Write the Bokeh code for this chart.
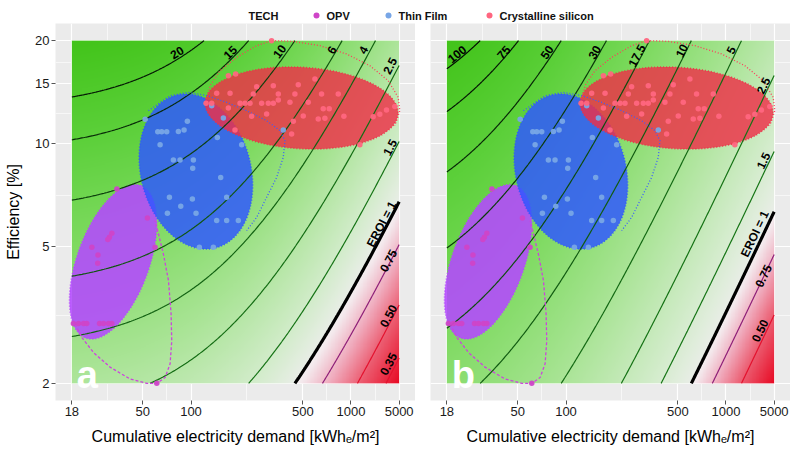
import numpy as np
from bokeh.plotting import figure
from bokeh.layouts import column, row
from bokeh.models import Range1d, FixedTicker
from bokeh.core.properties import value
from bokeh.embed import file_html
from bokeh.resources import INLINE

FONT = "Liberation Sans"

# ---------------- axes ----------------
x_ticks = [18, 50, 100, 500, 1000, 2000]
x_tick_labels = ["18", "50", "100", "500", "1000", "5000"]
y_ticks = [2, 5, 10, 15, 20]
y_tick_labels = ["2", "5", "10", "15", "20"]
x_data_min, x_data_max = 18, 2000
y_data_min, y_data_max = 2, 20

# ---------------- legend ----------------
legend_title = "TECH"
techs = ["OPV", "Thin Film", "Crystalline silicon"]
tech_point_colors = ["#cf45c8", "#78a6e6", "#ff6680"]

# ---------------- points (CED kWh/m2, efficiency %) ----------------
opv_ced = [34.4, 53.4, 32.0, 30.9, 30.2, 24.0, 59.6, 26.2, 26.1, 18.4, 19.8, 21.3, 22.3, 26.8, 28.4, 30.5, 32.0, 61.1]
opv_eff = [7.38, 6.07, 5.48, 5.34, 5.26, 4.99, 4.99, 4.74, 4.48, 2.99, 2.99, 2.99, 2.99, 2.99, 2.99, 2.99, 2.99, 2.0]

tf_ced = [134.7, 159.3, 51.7, 377.4, 62.0, 65.6, 70.5, 83.4, 90.5, 94.9, 64.1, 146.1, 207.4, 77.6, 85.4,
          103.5, 102.5, 153.3, 73.3, 102.0, 167.1, 86.3, 71.2, 107.5, 144.7, 167.1, 197.6, 112.8, 138.0]
tf_eff = [12.92, 11.89, 11.8, 10.97, 10.85, 10.85, 10.85, 10.87, 10.97, 11.63, 9.94, 10.44, 9.94, 8.97, 8.97,
          8.97, 8.48, 7.98, 6.98, 6.90, 6.98, 6.57, 6.27, 6.27, 5.97, 5.97, 5.97, 4.99, 4.99]

cs_ced = [319, 171.2, 190.2, 257.2, 326.9, 468.2, 595, 144.7, 175.4, 245.2, 351.3, 446.2, 655, 832.5,
          124.2, 134.7, 202.5, 217.6, 233.7, 276.4, 304.2, 326.9, 351.3, 415.4, 540.6, 670.8, 731.1,
          171.2, 239.4, 297, 435.8, 503, 624.3, 687, 902.9, 1376, 1515, 1667, 1879, 188.4, 425.5, 1136]
cs_eff = [20.0, 15.81, 15.99, 14.68, 14.78, 14.86, 15.46, 14.04, 14.04, 13.98, 13.98, 13.98, 13.98, 13.98,
          13.13, 13.13, 13.13, 13.13, 13.13, 13.13, 13.13, 13.13, 13.42, 13.21, 13.21, 12.66, 12.66,
          12.71, 12.03, 12.22, 11.63, 12.06, 11.82, 11.88, 12.03, 12.0, 12.2, 12.54, 12.84, 10.97, 10.68, 9.94]

# ---------------- filled ellipses: centre + two semi-axis vectors (decades of CED, decades of eff) ----------------
opv_ellipse = dict(ced=32.6, eff=4.525, ax1=(0.1713, 0.2224), ax2=(0.2123, -0.0357))
tf_ellipse = dict(ced=107.3, eff=8.30, ax1=(0.124, -0.2226), ax2=(-0.3326, -0.0405))
cs_ellipse = dict(ced=491.0, eff=12.72, ax1=(0.6025, -0.0172), ax2=(-0.0154, -0.1185))

# ---------------- dotted envelopes ----------------
opv_env_ced = [18.9, 20.8, 24.6, 31.2, 41.6, 52.9, 61.1, 68.9, 74.0, 75.8, 75.1, 72.3, 67.2, 62.6, 59.6]
opv_env_eff = [2.98, 2.72, 2.46, 2.23, 2.06, 2.0, 2.0, 2.08, 2.28, 2.66, 3.19, 3.99, 4.77, 5.46, 5.97]
tf_env_ced = [54.2, 74.0, 96.3, 125.4, 167.1, 222.8, 297, 359.7, 386.6, 377.4, 343, 297, 257.2, 222.8]
tf_env_eff = [12.49, 13.82, 14.13, 13.82, 13.21, 12.49, 11.68, 10.93, 10.21, 9.13, 7.98, 6.98, 6.10, 5.58]
cs_env_ced = [124.2, 131.5, 151.9, 193, 257.2, 319, 435.8, 639.4, 938, 1312, 1708, 1972, 2020, 1879]
cs_env_eff = [13.21, 14.78, 16.35, 17.88, 19.33, 20.0, 19.9, 19.33, 18.29, 16.9, 15.29, 13.67, 12.49, 11.3]

# ---------------- EROI model per panel: EROI = A * eff / (CED + B) ----------------
panel_a = dict(
    letter="a", A=325.6, B=205.0,
    levels=[20, 15, 10, 6, 4, 2.5, 1.5, 1, 0.75, 0.5, 0.35],
    labels=["20", "15", "10", "6", "4", "2.5", "1.5", "EROI = 1", "0.75", "0.50", "0.35"],
    label_ced=[81.5, 175.4, 356.4, 756, 1192, 1749, 1749, 1551, 1708, 1708, 1708],
    label_eff=[18.49, 18.49, 18.62, 18.79, 18.79, 16.9, 9.77, 5.83, 4.56, 3.15, 2.28],
)
panel_b = dict(
    letter="b", A=321.3, B=35.2,
    levels=[100, 75, 50, 30, 17.5, 10, 5, 2.5, 1.5, 1, 0.75, 0.5],
    labels=["100", "75", "50", "30", "17.5", "10", "5", "2.5", "1.5", "EROI = 1", "0.75", "0.50"],
    label_ced=[20.8, 40.7, 75.8, 150.4, 276.4, 527.8, 1073, 1708, 1708, 1515, 1708, 1628],
    label_eff=[18.29, 18.49, 18.49, 18.49, 18.09, 18.7, 18.79, 14.78, 8.93, 5.46, 4.12, 2.85],
)

# ---------------- layout constants ----------------
FRAME_W, FRAME_H = 360, 377
LEG_H = 23
FIG_H = 428
EXP = 0.05
lx0, lx1 = np.log10(x_data_min), np.log10(x_data_max)
ly0, ly1 = np.log10(y_data_min), np.log10(y_data_max)
x_lo, x_hi = 10 ** (lx0 - EXP * (lx1 - lx0)), 10 ** (lx1 + EXP * (lx1 - lx0))
y_lo, y_hi = 10 ** (ly0 - EXP * (ly1 - ly0)), 10 ** (ly1 + EXP * (ly1 - ly0))
x_minor = [float(np.sqrt(a * b)) for a, b in zip(x_ticks[:-1], x_ticks[1:])]
y_minor = [float(np.sqrt(a * b)) for a, b in zip(y_ticks[:-1], y_ticks[1:])]
px_per_dec_x = FRAME_W / np.log10(x_hi / x_lo)
px_per_dec_y = FRAME_H / np.log10(y_hi / y_lo)
K = px_per_dec_y / px_per_dec_x


def ellipse_xy(e, n=240):
    t = np.linspace(0, 2 * np.pi, n)
    lx = np.log10(e["ced"]) + np.cos(t) * e["ax1"][0] + np.sin(t) * e["ax2"][0]
    ly = np.log10(e["eff"]) + np.cos(t) * e["ax1"][1] + np.sin(t) * e["ax2"][1]
    return 10 ** lx, 10 ** ly


def background(A, B, nx=420, ny=320):
    lx = np.linspace(lx0, lx1, nx)
    ly = np.linspace(ly0, ly1, ny)
    C, F = np.meshgrid(10 ** lx, 10 ** ly)
    E = A * F / (C + B)
    emax, emin = E.max(), E.min()
    t = np.clip(np.log(np.maximum(E, 1.0)) / np.log(emax), 0, 1)
    s = np.clip(np.log(np.minimum(E, 1.0)) / np.log(emin), 0, 1)
    gt = [0, 0.12, 0.35, 0.6, 0.8, 1.0]
    gr, gg, gb = [234, 210, 168, 125, 92, 66], [238, 236, 228, 218, 208, 196], [232, 202, 148, 95, 58, 26]
    rt = [0, 0.06, 0.3, 0.6, 1.0]
    rr, rg, rb = [244, 244, 240, 236, 232], [242, 232, 172, 92, 10], [242, 236, 190, 112, 36]
    img = np.empty((ny, nx), dtype=np.uint32)
    v = img.view(dtype=np.uint8).reshape((ny, nx, 4))
    green = E >= 1
    for i, (g, r) in enumerate([(gr, rr), (gg, rg), (gb, rb)]):
        v[..., i] = np.where(green, np.interp(t, gt, g), np.interp(s, rt, r)).astype(np.uint8)
    v[..., 3] = 255
    return img, emax


def mix(c1, c2, f):
    return "#%02x%02x%02x" % tuple(int(round(a + (b - a) * f)) for a, b in zip(c1, c2))


def make_panel(P, first):
    mbl = 55 if first else 15
    width = FRAME_W + mbl
    p = figure(width=width, height=FIG_H, x_axis_type="log", y_axis_type="log",
               x_range=Range1d(x_lo, x_hi), y_range=Range1d(y_lo, y_hi),
               toolbar_location=None, output_backend="svg",
               min_border_left=mbl, min_border_right=0, min_border_top=0,
               min_border_bottom=FIG_H - FRAME_H)
    p.background_fill_color = "#ebebeb"
    p.border_fill_color = "white"
    p.outline_line_color = None

    xt = FixedTicker(ticks=x_ticks, minor_ticks=x_minor)
    yt = FixedTicker(ticks=y_ticks, minor_ticks=y_minor)
    p.xaxis.ticker = xt
    p.yaxis.ticker = yt
    p.xgrid.ticker = xt
    p.ygrid.ticker = yt
    for g in (p.xgrid, p.ygrid):
        g.grid_line_color = "white"
        g.grid_line_width = 1.2
        g.minor_grid_line_color = "white"
        g.minor_grid_line_width = 0.6
    p.xaxis.major_label_overrides = {t: l for t, l in zip(x_ticks, x_tick_labels)}
    p.yaxis.major_label_overrides = {t: l for t, l in zip(y_ticks, y_tick_labels)}
    for ax in (p.xaxis, p.yaxis):
        ax.axis_line_color = None
        ax.major_tick_line_color = "#555555"
        ax.major_tick_out = 4
        ax.major_tick_in = 0
        ax.minor_tick_line_color = None
        ax.major_label_text_font = FONT
        ax.major_label_text_font_size = "13px"
        ax.major_label_text_color = "#1a1a1a"
        ax.axis_label_text_font = FONT
        ax.axis_label_text_font_size = "16px"
        ax.axis_label_text_font_style = "normal"
        ax.axis_label_text_color = "black"
    p.xaxis.major_label_standoff = 2
    p.xaxis.axis_label_standoff = 9
    p.xaxis.axis_label = "Cumulative electricity demand [kWh\u2091/m\u00b2]"
    if first:
        p.yaxis.axis_label = "Efficiency [%]"
        p.yaxis.major_label_standoff = 2
        p.yaxis.axis_label_standoff = 10
    else:
        p.yaxis.visible = False

    A, B = P["A"], P["B"]
    img, emax = background(A, B)
    p.image_rgba(image=[img], x=x_data_min, y=y_data_min,
                 dw=x_data_max - x_data_min, dh=y_data_max - y_data_min)

    # filled ellipses
    for e, fc, al in ((opv_ellipse, "#b448ff", 0.88), (tf_ellipse, "#2f57ff", 0.84), (cs_ellipse, "#ee3048", 0.82)):
        ex, ey = ellipse_xy(e)
        p.patch(ex, ey, fill_color=fc, fill_alpha=al, line_color=fc, line_alpha=0.9,
                line_width=1.6, line_dash="1 2")

    # contour lines
    for L in P["levels"]:
        lo = max(x_data_min, A * y_data_min / L - B)
        hi = min(x_data_max, A * y_data_max / L - B)
        if hi <= lo:
            continue
        ced = np.logspace(np.log10(lo), np.log10(hi), 160)
        eff = L * (ced + B) / A
        if L == 1:
            col, w = "black", 3.2
        elif L > 1:
            f = min(1.0, np.log(L) / np.log(emax))
            col, w = mix((22, 118, 22), (0, 0, 0), f ** 2), 1.2
        elif L >= 0.7:
            col, w = "#8e1f78", 1.2
        else:
            col, w = "#e3122e", 1.2
        p.line(ced, eff, line_color=col, line_width=w)

    # dotted envelopes
    p.line(opv_env_ced, opv_env_eff, line_color="#cc44dd", line_width=1.3, line_dash="3 2")
    p.line(tf_env_ced, tf_env_eff, line_color="#3a5cff", line_width=1.3, line_dash="1 2")
    p.line(cs_env_ced, cs_env_eff, line_color="#ff3a5a", line_width=1.3, line_dash="1 2")

    # points
    for xs, ys, c in ((opv_ced, opv_eff, tech_point_colors[0]), (tf_ced, tf_eff, tech_point_colors[1]),
                      (cs_ced, cs_eff, tech_point_colors[2])):
        p.scatter(xs, ys, size=5.5, fill_color=c, line_color=None, fill_alpha=0.95)

    # contour labels
    lab_ced = np.array(P["label_ced"], dtype=float)
    angles = np.arctan(K * lab_ced / (lab_ced + B))
    p.text(x=P["label_ced"], y=P["label_eff"], text=P["labels"], angle=list(angles),
           text_align="center", text_baseline="middle", text_font=value(FONT),
           text_font_style="bold", text_font_size="12px", text_color="black")

    # panel letter
    p.text(x=[19.3], y=[2.11], text=[P["letter"]], text_align="left", text_baseline="alphabetic",
           text_font=value(FONT), text_font_style="bold", text_font_size="38px", text_color="white")
    return p


pa = make_panel(panel_a, True)
pb = make_panel(panel_b, False)

# legend strip (page coordinates: x from left, y measured from the strip's bottom)
TOTAL_W = pa.width + pb.width
leg = figure(width=TOTAL_W, height=LEG_H, x_range=(0, TOTAL_W), y_range=(0, LEG_H),
             toolbar_location=None, output_backend="svg", min_border=0)
leg.axis.visible = False
leg.grid.visible = False
leg.outline_line_color = None
LY = LEG_H - 15
leg.text(x=[263], y=[LY], text=[legend_title], text_align="center", text_baseline="middle",
         text_font=value(FONT), text_font_style="bold", text_font_size="11px", text_color="#111111")
leg.scatter(x=[316, 388, 489], y=[LY] * 3, size=6, fill_color=tech_point_colors, line_color=None)
leg.text(x=[326, 398, 499], y=[LY] * 3, text=techs, text_align="left", text_baseline="middle",
         text_font=value(FONT), text_font_style="bold", text_font_size="11px", text_color="#111111")

layout = column(leg, row(pa, pb))
open("out.html", "w").write(file_html(layout, INLINE))
